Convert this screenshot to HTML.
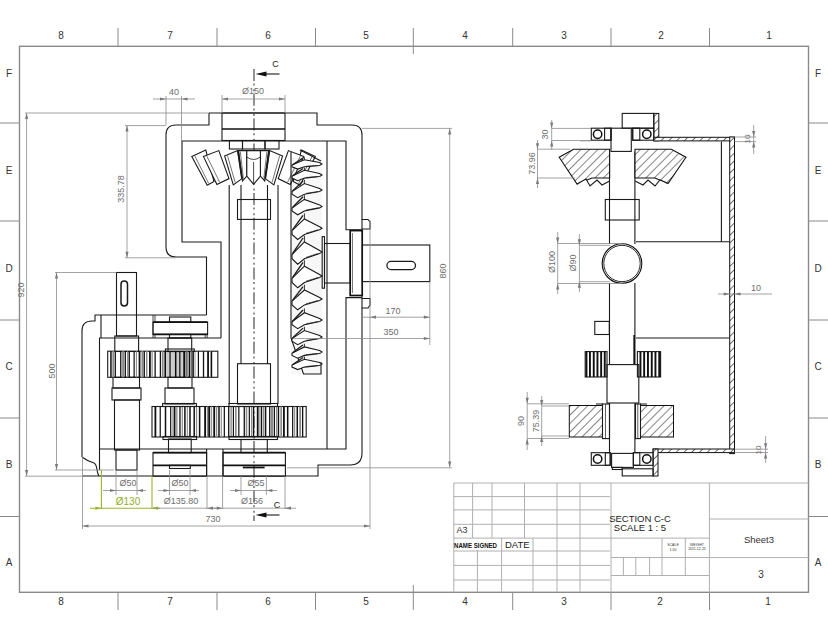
<!DOCTYPE html>
<html><head><meta charset="utf-8"><style>
html,body{margin:0;padding:0;background:#fff;width:828px;height:640px;overflow:hidden}
svg{display:block}
text{font-family:"Liberation Sans",sans-serif}
.fr{fill:none;stroke:#8a8a8a;stroke-width:1.4}
.zl{font-size:10px;fill:#333;text-anchor:middle}
.tb{fill:none;stroke:#b0b0b0;stroke-width:1}
.o{fill:none;stroke:#1a1a1a;stroke-width:1.1}
.ot{fill:none;stroke:#111;stroke-width:1.7}
.d{fill:none;stroke:#8c8c8c;stroke-width:0.8}
.cl{fill:none;stroke:#4a4a4a;stroke-width:1.2;stroke-dasharray:12 2.6 2 3.6 2 2.6}
.g{fill:none;stroke:#9bb52a;stroke-width:1.1}
</style></head><body>
<svg width="828" height="640" viewBox="0 0 828 640">

<rect class="fr" x="19.5" y="46.3" width="789" height="546"/>
<g class="fr" style="stroke-width:1">
<path d="M118 28V46M217 28V46M315.5 28V46M413.3 28V54M512.7 28V46M611 28V46M709.5 28V46"/>
<path d="M118 592V610M217 592V610M315.5 592V610M413.3 585V610M512.7 592V610M611 592V610M709.5 592V610"/>
<path d="M0 123H19.5M0 221H19.5M0 320H19.5M0 418H19.5M0 516.5H19.5"/>
<path d="M808.5 123H828M808.5 221H828M808.5 320H828M808.5 418H828M808.5 516.5H828"/>
</g>
<g class="zl">
<text x="61" y="39">8</text><text x="170" y="39">7</text><text x="268" y="39">6</text><text x="366" y="39">5</text><text x="465" y="39">4</text><text x="564" y="39">3</text><text x="661" y="39">2</text><text x="769" y="39">1</text>
<text x="61" y="605">8</text><text x="170" y="605">7</text><text x="268" y="605">6</text><text x="366" y="605">5</text><text x="465" y="605">4</text><text x="564" y="605">3</text><text x="660" y="605">2</text><text x="768" y="605">1</text>
<text x="9" y="77">F</text><text x="9" y="174">E</text><text x="9" y="272">D</text><text x="9" y="370">C</text><text x="9" y="468">B</text><text x="9" y="566">A</text>
<text x="818" y="77">F</text><text x="818" y="174">E</text><text x="818" y="272">D</text><text x="818" y="370">C</text><text x="818" y="468">B</text><text x="818" y="566">A</text>
</g>
<g class="tb">
<path d="M453.8 483H808.5M453.8 483V592.5M611 483V592.5M709.4 483V592.5"/>
<path d="M453.8 496.6H610M453.8 509.9H610M453.8 524.3H610M453.8 538.1H709.4"/>
<path d="M472.6 483V538M492 483V538M524.5 483V538M557 483V592M580 483V592"/>
<path d="M477.4 550V592M501.6 538V592M533 538V592"/>
<path d="M453.8 551H610M453.8 565.4H610M453.8 580H610"/>
<path d="M709.4 519H808.5M709.4 557.6H808.5"/>
<path d="M611 557.5H709.4M611 575.5H709.4M662 538V575.5M685.3 538V575.5M623.4 557.5V575.5M635.8 557.5V575.5M649.6 557.5V575.5"/>
</g>
<text x="456.5" y="533" style="font-size:9px;fill:#333">A3</text>
<text x="454" y="548" style="font-size:8px;fill:#111;font-weight:bold" textLength="43" lengthAdjust="spacingAndGlyphs">NAME SIGNED</text>
<text x="505" y="548" style="font-size:9.5px;fill:#222">DATE</text>
<text x="640" y="522" style="font-size:9.5px;fill:#222;text-anchor:middle">SECTION C-C</text>
<text x="640" y="531" style="font-size:9.5px;fill:#222;text-anchor:middle">SCALE 1 : 5</text>
<text x="673" y="546" style="font-size:3.5px;fill:#333;text-anchor:middle">SCALE</text>
<text x="673" y="551" style="font-size:3.5px;fill:#333;text-anchor:middle">1:50</text>
<text x="697" y="546" style="font-size:3.5px;fill:#333;text-anchor:middle">WEIGHT</text>
<text x="697" y="550" style="font-size:3.5px;fill:#333;text-anchor:middle">2011-12-25</text>
<text x="759" y="543" style="font-size:9.5px;fill:#333;text-anchor:middle">Sheet3</text>
<text x="761" y="578" style="font-size:10px;fill:#333;text-anchor:middle">3</text>

<path class="cl" d="M254 69V521" />
<text x="275.5" y="66.5" style="font-size:9px;fill:#222;text-anchor:middle">C</text>
<path class="o" d="M262 74H279.5" />
<polygon points="255.50,74.00 266.50,71.40 266.50,76.60" style="fill:#111"/>
<text x="277" y="508" style="font-size:9px;fill:#222;text-anchor:middle">C</text>
<path class="o" d="M262 515H279.5" />
<polygon points="255.50,515.00 266.50,512.40 266.50,517.60" style="fill:#111"/>
<path class="o" d="M209 113H317V125H352Q362 125 362 135V231.5M362 296V453Q362 465 350 465H318V476H82" />
<path class="o" d="M209 113V125H176Q166 125 166 135V247Q166 257 176 257H206.5V315" />
<path class="o" d="M221 338V242H182V141H346V229.8H361.6M361.6 297.6H346V449H99" />
<path class="o" d="M327 141V449" />
<path class="o" d="M206.5 315H95V321H92Q82 321 82 331V457" />
<path class="o" d="M82 457C86 460 90 462 94 463C98 465 96 472 99 476" />
<path class="o" d="M101 315V338M99.5 338V470" />
<path class="o" d="M99 338H221" />
<rect class="o" x="116.50" y="272.50" width="20.00" height="63.50" />
<rect class="o" x="121" y="281" width="6.5" height="25" rx="3.2" style="stroke-width:1.5"/>
<rect class="o" x="114.80" y="336.00" width="23.80" height="15.50" />
<rect class="o" x="113.00" y="377.30" width="26.50" height="10.70" />
<rect class="o" x="112.00" y="388.00" width="29.00" height="12.00" />
<rect class="o" x="114.50" y="400.00" width="25.00" height="50.00" />
<rect class="o" x="116.00" y="450.00" width="21.00" height="20.00" />
<rect class="o" x="169.50" y="317.00" width="21.30" height="5.20" />
<rect class="o" x="153.00" y="322.20" width="54.60" height="12.20" />
<path class="ot" d="M153 322.2H207.6M153 334.4H207.6" />
<path class="o" d="M153 315V338M155 315V322M155 334.4V338M205.2 334.4V338M207.2 334.4V338" style="stroke-width:0.8"/>
<rect class="o" x="165.40" y="349.00" width="28.90" height="2.50" />
<rect class="o" x="169.50" y="334.40" width="21.30" height="3.60" />
<rect class="o" x="168.00" y="338.00" width="23.70" height="13.50" />
<rect class="o" x="168.00" y="377.30" width="24.00" height="10.70" />
<rect class="o" x="165.00" y="388.00" width="29.00" height="16.00" />
<rect class="o" x="168.50" y="439.00" width="22.70" height="13.60" />
<rect class="o" x="153.00" y="452.60" width="53.60" height="23.60" />
<path class="ot" d="M153 452.6H206.6M153 465.3H206.6" />
<rect class="o" x="169.50" y="465.30" width="20.80" height="3.20" />
<path class="o" d="M206.6 449V476M223 449V476" />
<rect class="o" x="107.70" y="351.20" width="110.10" height="26.10" />
<rect x="112.38" y="351.2" width="1.92" height="26.100000000000023" style="fill:#8a8a8a"/><rect x="122.15" y="351.2" width="2.00" height="26.100000000000023" style="fill:#8a8a8a"/><rect x="127.07" y="351.2" width="1.23" height="26.100000000000023" style="fill:#8a8a8a"/><rect x="135.90" y="351.2" width="1.04" height="26.100000000000023" style="fill:#8a8a8a"/><rect x="141.47" y="351.2" width="1.88" height="26.100000000000023" style="fill:#8a8a8a"/><rect x="146.01" y="351.2" width="1.44" height="26.100000000000023" style="fill:#8a8a8a"/><rect x="151.52" y="351.2" width="1.22" height="26.100000000000023" style="fill:#8a8a8a"/><rect x="161.88" y="351.2" width="1.35" height="26.100000000000023" style="fill:#8a8a8a"/><rect x="185.73" y="351.2" width="1.85" height="26.100000000000023" style="fill:#8a8a8a"/><rect x="190.63" y="351.2" width="1.90" height="26.100000000000023" style="fill:#8a8a8a"/><rect x="210.16" y="351.2" width="1.31" height="26.100000000000023" style="fill:#8a8a8a"/><rect x="110.20" y="351.2" width="1.5" height="26.100000000000023" style="fill:#111"/><rect x="114.75" y="351.2" width="1.2" height="26.100000000000023" style="fill:#111"/><rect x="120.10" y="351.2" width="1.3" height="26.100000000000023" style="fill:#111"/><rect x="124.65" y="351.2" width="1.3" height="26.100000000000023" style="fill:#111"/><rect x="128.61" y="351.2" width="1.3" height="26.100000000000023" style="fill:#111"/><rect x="133.52" y="351.2" width="1.2" height="26.100000000000023" style="fill:#111"/><rect x="138.64" y="351.2" width="1.8" height="26.100000000000023" style="fill:#111"/><rect x="143.63" y="351.2" width="1.3" height="26.100000000000023" style="fill:#111"/><rect x="149.03" y="351.2" width="1.8" height="26.100000000000023" style="fill:#111"/><rect x="154.49" y="351.2" width="1.3" height="26.100000000000023" style="fill:#111"/><rect x="159.75" y="351.2" width="1.3" height="26.100000000000023" style="fill:#111"/><rect x="164.50" y="351.2" width="1.5" height="26.100000000000023" style="fill:#111"/><rect x="169.44" y="351.2" width="1.2" height="26.100000000000023" style="fill:#111"/><rect x="174.94" y="351.2" width="1.5" height="26.100000000000023" style="fill:#111"/><rect x="179.22" y="351.2" width="1.2" height="26.100000000000023" style="fill:#111"/><rect x="183.29" y="351.2" width="1.8" height="26.100000000000023" style="fill:#111"/><rect x="188.79" y="351.2" width="1.2" height="26.100000000000023" style="fill:#111"/><rect x="192.51" y="351.2" width="1.3" height="26.100000000000023" style="fill:#111"/><rect x="197.79" y="351.2" width="1.2" height="26.100000000000023" style="fill:#111"/><rect x="202.87" y="351.2" width="1.3" height="26.100000000000023" style="fill:#111"/><rect x="207.16" y="351.2" width="1.8" height="26.100000000000023" style="fill:#111"/><rect x="210.99" y="351.2" width="1.2" height="26.100000000000023" style="fill:#111"/>
<rect x="163" y="351.2" width="33" height="26.100000000000023" style="fill:#000;opacity:0.2"/>
<rect class="o" x="152.00" y="406.50" width="154.20" height="30.50" />
<rect x="172.41" y="406.5" width="1.38" height="30.5" style="fill:#8a8a8a"/><rect x="176.19" y="406.5" width="1.28" height="30.5" style="fill:#8a8a8a"/><rect x="181.70" y="406.5" width="1.14" height="30.5" style="fill:#8a8a8a"/><rect x="186.82" y="406.5" width="1.01" height="30.5" style="fill:#8a8a8a"/><rect x="195.96" y="406.5" width="1.20" height="30.5" style="fill:#8a8a8a"/><rect x="206.84" y="406.5" width="1.94" height="30.5" style="fill:#8a8a8a"/><rect x="211.12" y="406.5" width="1.00" height="30.5" style="fill:#8a8a8a"/><rect x="215.90" y="406.5" width="1.31" height="30.5" style="fill:#8a8a8a"/><rect x="220.77" y="406.5" width="1.06" height="30.5" style="fill:#8a8a8a"/><rect x="230.43" y="406.5" width="1.37" height="30.5" style="fill:#8a8a8a"/><rect x="235.03" y="406.5" width="1.62" height="30.5" style="fill:#8a8a8a"/><rect x="245.74" y="406.5" width="1.52" height="30.5" style="fill:#8a8a8a"/><rect x="251.00" y="406.5" width="1.37" height="30.5" style="fill:#8a8a8a"/><rect x="259.42" y="406.5" width="1.15" height="30.5" style="fill:#8a8a8a"/><rect x="262.98" y="406.5" width="1.18" height="30.5" style="fill:#8a8a8a"/><rect x="271.00" y="406.5" width="1.99" height="30.5" style="fill:#8a8a8a"/><rect x="276.07" y="406.5" width="1.34" height="30.5" style="fill:#8a8a8a"/><rect x="280.36" y="406.5" width="1.64" height="30.5" style="fill:#8a8a8a"/><rect x="294.10" y="406.5" width="1.06" height="30.5" style="fill:#8a8a8a"/><rect x="299.23" y="406.5" width="1.85" height="30.5" style="fill:#8a8a8a"/><rect x="154.50" y="406.5" width="1.8" height="30.5" style="fill:#111"/><rect x="159.64" y="406.5" width="1.2" height="30.5" style="fill:#111"/><rect x="164.75" y="406.5" width="1.5" height="30.5" style="fill:#111"/><rect x="170.09" y="406.5" width="1.2" height="30.5" style="fill:#111"/><rect x="173.96" y="406.5" width="1.5" height="30.5" style="fill:#111"/><rect x="179.32" y="406.5" width="1.3" height="30.5" style="fill:#111"/><rect x="184.14" y="406.5" width="1.5" height="30.5" style="fill:#111"/><rect x="189.24" y="406.5" width="1.5" height="30.5" style="fill:#111"/><rect x="193.45" y="406.5" width="1.5" height="30.5" style="fill:#111"/><rect x="198.87" y="406.5" width="1.5" height="30.5" style="fill:#111"/><rect x="204.19" y="406.5" width="1.8" height="30.5" style="fill:#111"/><rect x="208.36" y="406.5" width="1.8" height="30.5" style="fill:#111"/><rect x="213.28" y="406.5" width="1.8" height="30.5" style="fill:#111"/><rect x="218.24" y="406.5" width="1.5" height="30.5" style="fill:#111"/><rect x="223.72" y="406.5" width="1.2" height="30.5" style="fill:#111"/><rect x="228.06" y="406.5" width="1.3" height="30.5" style="fill:#111"/><rect x="232.80" y="406.5" width="1.2" height="30.5" style="fill:#111"/><rect x="238.24" y="406.5" width="1.2" height="30.5" style="fill:#111"/><rect x="243.63" y="406.5" width="1.3" height="30.5" style="fill:#111"/><rect x="248.73" y="406.5" width="1.2" height="30.5" style="fill:#111"/><rect x="252.96" y="406.5" width="1.3" height="30.5" style="fill:#111"/><rect x="256.81" y="406.5" width="1.8" height="30.5" style="fill:#111"/><rect x="260.99" y="406.5" width="1.2" height="30.5" style="fill:#111"/><rect x="264.82" y="406.5" width="1.5" height="30.5" style="fill:#111"/><rect x="269.07" y="406.5" width="1.3" height="30.5" style="fill:#111"/><rect x="273.73" y="406.5" width="1.3" height="30.5" style="fill:#111"/><rect x="277.87" y="406.5" width="1.3" height="30.5" style="fill:#111"/><rect x="283.02" y="406.5" width="1.8" height="30.5" style="fill:#111"/><rect x="286.94" y="406.5" width="1.5" height="30.5" style="fill:#111"/><rect x="292.07" y="406.5" width="1.2" height="30.5" style="fill:#111"/><rect x="296.53" y="406.5" width="1.5" height="30.5" style="fill:#111"/><rect x="302.00" y="406.5" width="1.3" height="30.5" style="fill:#111"/>
<rect class="o" x="229.00" y="403.50" width="48.50" height="3.00" />
<rect class="o" x="229.00" y="436.50" width="48.50" height="3.00" />
<rect class="o" x="162.60" y="403.50" width="33.80" height="3.00" />
<rect class="o" x="163.00" y="436.50" width="33.60" height="3.00" />
<rect class="o" x="241.00" y="439.50" width="26.30" height="13.10" />
<rect class="o" x="223.00" y="452.60" width="62.40" height="23.60" />
<path class="ot" d="M223 452.6H285.4M223 465.3H285.4" />
<path class="ot" d="M242.8 467.5H264.6" />
<rect class="o" x="222.00" y="113.00" width="63.00" height="27.50" />
<path class="ot" d="M222 129H285" />
<rect class="o" x="229.40" y="140.50" width="13.10" height="8.50" />
<rect class="o" x="242.50" y="140.50" width="22.50" height="8.50" />
<rect class="o" x="265.00" y="140.50" width="14.00" height="8.50" />
<path class="o" d="M229.2 185V404M278 185V404M241 185V364M267.5 185V364" />
<rect class="o" x="237.50" y="199.50" width="33.00" height="19.90" />
<rect class="o" x="237.50" y="363.70" width="33.00" height="40.30" />
<polygon class="o" points="191.8,156.4 205.8,150.0 214.0,181.5 207.2,185.3" style="fill:#fff;stroke-width:1.1"/>
<path class="o" d="M194.9 156.0L208.7 183.5" style="stroke-width:0.6"/>
<polygon class="o" points="315.4,156.4 301.4,150.0 293.2,181.5 300.0,185.3" style="fill:#fff;stroke-width:1.1"/>
<path class="o" d="M312.3 156.0L298.5 183.5" style="stroke-width:0.6"/>
<polygon class="o" points="203.4,156.4 218.8,150.6 229.0,178.6 216.9,184.4" style="fill:#fff;stroke-width:1.1"/>
<path class="o" d="M206.8 156.1L219.6 182.1" style="stroke-width:0.6"/>
<polygon class="o" points="303.8,156.4 288.4,150.6 278.2,178.6 290.3,184.4" style="fill:#fff;stroke-width:1.1"/>
<path class="o" d="M300.4 156.1L287.6 182.1" style="stroke-width:0.6"/>
<polygon class="o" points="224.6,155.9 237.7,150.6 242.0,178.6 233.3,184.9" style="fill:#fff;stroke-width:1.1"/>
<path class="o" d="M227.5 155.7L235.2 182.5" style="stroke-width:0.6"/>
<polygon class="o" points="282.6,155.9 269.5,150.6 265.2,178.6 273.9,184.9" style="fill:#fff;stroke-width:1.1"/>
<path class="o" d="M279.7 155.7L272.0 182.5" style="stroke-width:0.6"/>
<polygon class="o" points="238.5,150.6 246.8,150.6 246.8,176.0 242.5,181.0" style="fill:#fff;stroke-width:1.1"/>
<path class="o" d="M240.3 151.6L243.4 178.9" style="stroke-width:0.6"/>
<polygon class="o" points="268.7,150.6 260.4,150.6 260.4,176.0 264.7,181.0" style="fill:#fff;stroke-width:1.1"/>
<path class="o" d="M266.9 151.6L263.8 178.9" style="stroke-width:0.6"/>
<polygon class="o" points="246.8,150.6 260.4,150.6 260.4,176 253.6,184.4 246.8,176" style="fill:#fff"/>
<path class="o" d="M246.8 157Q253.6 162 260.4 157M253.6 162V184" style="stroke-width:0.8"/>
<path class="o" d="M238 151L242 178.6M269.2 151L265.2 178.6" style="stroke-width:1.8"/>
<rect x="291" y="158" width="31" height="216" style="fill:#000;opacity:0.03"/>
<path class="o" d="M291 152V338L303.5 374H321V362M300 150L321 161" />
<polygon class="o" points="292.0,165.0 304.4,159.7 319.6,162.5 322.0,164.0 319.6,165.5 304.4,166.8 297.7,169.1 292.0,166.8" style="fill:#fff;stroke-width:1.1"/>
<path class="o" d="M304.4 157.2V159.7" style="stroke-width:0.9"/>
<path class="o" d="M303 158.1L292.5 164.7" style="stroke-width:1.3"/>
<path class="o" d="M306 166.3L318 165.5" style="stroke-width:0.7"/>
<polygon class="o" points="292.0,176.2 304.4,170.3 319.6,173.5 322.0,175.0 319.6,176.5 304.4,178.1 297.7,180.7 292.0,178.1" style="fill:#fff;stroke-width:1.1"/>
<path class="o" d="M304.4 167.5V170.3" style="stroke-width:0.9"/>
<path class="o" d="M303 168.5L292.5 175.8" style="stroke-width:1.3"/>
<path class="o" d="M306 177.5L318 176.5" style="stroke-width:0.7"/>
<polygon class="o" points="292.0,191.6 304.4,183.6 319.6,188.5 322.0,190.0 319.6,191.5 304.4,194.2 297.7,197.7 292.0,194.2" style="fill:#fff;stroke-width:1.1"/>
<path class="o" d="M304.4 179.8V183.6" style="stroke-width:0.9"/>
<path class="o" d="M303 181.1L292.5 191.0" style="stroke-width:1.3"/>
<path class="o" d="M306 193.4L318 191.5" style="stroke-width:0.7"/>
<polygon class="o" points="292.0,208.1 304.4,199.4 319.6,204.9 322.0,206.4 319.6,207.9 304.4,211.0 297.7,214.8 292.0,211.0" style="fill:#fff;stroke-width:1.1"/>
<path class="o" d="M304.4 195.2V199.4" style="stroke-width:0.9"/>
<path class="o" d="M303 196.7L292.5 207.5" style="stroke-width:1.3"/>
<path class="o" d="M306 210.1L318 207.9" style="stroke-width:0.7"/>
<polygon class="o" points="292.0,230.6 304.4,218.9 319.6,226.8 322.0,228.3 319.6,229.8 304.4,234.5 297.7,239.5 292.0,234.5" style="fill:#fff;stroke-width:1.1"/>
<path class="o" d="M304.4 213.4V218.9" style="stroke-width:0.9"/>
<path class="o" d="M303 215.4L292.5 229.8" style="stroke-width:1.3"/>
<path class="o" d="M306 233.3L318 229.8" style="stroke-width:0.7"/>
<polygon class="o" points="292.0,254.5 304.4,241.9 319.6,250.5 322.0,252.0 319.6,253.5 304.4,258.7 297.7,264.2 292.0,258.7" style="fill:#fff;stroke-width:1.1"/>
<path class="o" d="M304.4 235.8V241.9" style="stroke-width:0.9"/>
<path class="o" d="M303 238.0L292.5 253.6" style="stroke-width:1.3"/>
<path class="o" d="M306 257.4L318 253.5" style="stroke-width:0.7"/>
<polygon class="o" points="292.0,278.4 304.4,266.2 319.6,274.5 322.0,276.0 319.6,277.5 304.4,282.5 297.7,287.8 292.0,282.5" style="fill:#fff;stroke-width:1.1"/>
<path class="o" d="M304.4 260.3V266.2" style="stroke-width:0.9"/>
<path class="o" d="M303 262.4L292.5 277.6" style="stroke-width:1.3"/>
<path class="o" d="M306 281.2L318 277.5" style="stroke-width:0.7"/>
<polygon class="o" points="292.0,301.2 304.4,290.0 319.6,297.5 322.0,299.0 319.6,300.5 304.4,304.9 297.7,309.8 292.0,304.9" style="fill:#fff;stroke-width:1.1"/>
<path class="o" d="M304.4 284.7V290.0" style="stroke-width:0.9"/>
<path class="o" d="M303 286.6L292.5 300.4" style="stroke-width:1.3"/>
<path class="o" d="M306 303.8L318 300.5" style="stroke-width:0.7"/>
<polygon class="o" points="292.0,321.8 304.4,312.7 319.6,318.5 322.0,320.0 319.6,321.5 304.4,324.8 297.7,328.7 292.0,324.8" style="fill:#fff;stroke-width:1.1"/>
<path class="o" d="M304.4 308.4V312.7" style="stroke-width:0.9"/>
<path class="o" d="M303 310.0L292.5 321.2" style="stroke-width:1.3"/>
<path class="o" d="M306 323.9L318 321.5" style="stroke-width:0.7"/>
<polygon class="o" points="292.0,338.6 304.4,330.6 319.6,335.5 322.0,337.0 319.6,338.5 304.4,341.2 297.7,344.7 292.0,341.2" style="fill:#fff;stroke-width:1.1"/>
<path class="o" d="M304.4 326.8V330.6" style="stroke-width:0.9"/>
<path class="o" d="M303 328.1L292.5 338.0" style="stroke-width:1.3"/>
<path class="o" d="M306 340.4L318 338.5" style="stroke-width:0.7"/>
<polygon class="o" points="292.0,353.3 304.4,346.9 319.6,350.5 322.0,352.0 319.6,353.5 304.4,355.4 297.7,358.2 292.0,355.4" style="fill:#fff;stroke-width:1.1"/>
<path class="o" d="M304.4 343.8V346.9" style="stroke-width:0.9"/>
<path class="o" d="M303 344.9L292.5 352.8" style="stroke-width:1.3"/>
<path class="o" d="M306 354.7L318 353.5" style="stroke-width:0.7"/>
<polygon class="o" points="292.0,365.1 304.4,359.3 319.6,362.5 322.0,364.0 319.6,365.5 304.4,367.1 297.7,369.6 292.0,367.1" style="fill:#fff;stroke-width:1.1"/>
<path class="o" d="M304.4 356.5V359.3" style="stroke-width:0.9"/>
<path class="o" d="M303 357.5L292.5 364.8" style="stroke-width:1.3"/>
<path class="o" d="M306 366.5L318 365.5" style="stroke-width:0.7"/>
<rect class="o" x="322.20" y="236.60" width="2.30" height="51.60" />
<rect class="o" x="324.50" y="243.50" width="25.70" height="39.50" />
<rect class="ot" x="350.20" y="230.60" width="12.00" height="64.90" />
<path class="o" d="M352.5 233V293" style="stroke-width:0.6"/>
<path class="o" d="M361.6 219.5H368L370 222V229H361.6" />
<path class="o" d="M361.6 298.5H370V305L368 308H361.6" />
<rect class="o" x="362.30" y="245.00" width="67.50" height="36.60" />
<rect class="o" x="386.9" y="261.4" width="28.6" height="8.2" rx="4.1" style="stroke-width:1.3"/>
<path class="d" d="M166 96V125M181.5 96V141M153 99H195" />
<polygon points="166.00,99.00 160.00,100.60 160.00,97.40" style="fill:#7a7a7a"/>
<polygon points="181.50,99.00 187.50,97.40 187.50,100.60" style="fill:#7a7a7a"/>
<text x="174" y="95" style="font-size:9px;fill:#6e6e6e;text-anchor:middle">40</text>
<path class="d" d="M222 95V113M285 95V113M222 99H285" />
<polygon points="222.00,99.00 228.00,97.40 228.00,100.60" style="fill:#7a7a7a"/>
<polygon points="285.00,99.00 279.00,100.60 279.00,97.40" style="fill:#7a7a7a"/>
<text x="253" y="94" style="font-size:9px;fill:#6e6e6e;text-anchor:middle">Ø150</text>
<path class="d" d="M25 113H209M25 476.2H82M26.6 113V476" />
<polygon points="26.60,113.00 28.20,119.00 25.00,119.00" style="fill:#7a7a7a"/>
<polygon points="26.60,476.00 25.00,470.00 28.20,470.00" style="fill:#7a7a7a"/>
<text x="24" y="290" style="font-size:9px;fill:#6e6e6e;text-anchor:middle" transform="rotate(-90 24 290)">920</text>
<path class="d" d="M125 125.6H166M125 257.8H176M127 125.6V257.8" />
<polygon points="127.00,125.60 128.60,131.60 125.40,131.60" style="fill:#7a7a7a"/>
<polygon points="127.00,257.80 125.40,251.80 128.60,251.80" style="fill:#7a7a7a"/>
<text x="124" y="189" style="font-size:9px;fill:#6e6e6e;text-anchor:middle" transform="rotate(-90 124 189)">335.78</text>
<path class="d" d="M55 272.5H116.5M55 470H114M56.5 272.5V470" />
<polygon points="56.50,272.50 58.10,278.50 54.90,278.50" style="fill:#7a7a7a"/>
<polygon points="56.50,470.00 54.90,464.00 58.10,464.00" style="fill:#7a7a7a"/>
<text x="55" y="371" style="font-size:9px;fill:#6e6e6e;text-anchor:middle" transform="rotate(-90 55 371)">500</text>
<path class="d" d="M362 128.4H452M287 467.8H452M449.7 128.4V467.4" />
<polygon points="449.70,128.40 451.30,134.40 448.10,134.40" style="fill:#7a7a7a"/>
<polygon points="449.70,467.40 448.10,461.40 451.30,461.40" style="fill:#7a7a7a"/>
<text x="446" y="271" style="font-size:9px;fill:#6e6e6e;text-anchor:middle" transform="rotate(-90 446 271)">860</text>
<path class="d" d="M370 220V345M429.8 281.6V345M362.3 317.2H429.8M293 338.5H429.8" />
<polygon points="370.00,317.20 376.00,315.60 376.00,318.80" style="fill:#7a7a7a"/>
<polygon points="429.80,317.20 423.80,318.80 423.80,315.60" style="fill:#7a7a7a"/>
<polygon points="429.80,338.50 423.80,340.10 423.80,336.90" style="fill:#7a7a7a"/>
<text x="393" y="314" style="font-size:9px;fill:#6e6e6e;text-anchor:middle">170</text>
<text x="391" y="335" style="font-size:9px;fill:#6e6e6e;text-anchor:middle">350</text>
<path class="d" d="M82.5 456V529M370 345V529M82.5 526H370" />
<polygon points="82.50,526.00 88.50,524.40 88.50,527.60" style="fill:#7a7a7a"/>
<polygon points="370.00,526.00 364.00,527.60 364.00,524.40" style="fill:#7a7a7a"/>
<text x="213" y="522" style="font-size:9px;fill:#6e6e6e;text-anchor:middle">730</text>
<path class="d" d="M116 470V495M137 470V495M103 490.5H146" />
<polygon points="116.00,490.50 110.00,492.10 110.00,488.90" style="fill:#7a7a7a"/>
<polygon points="137.00,490.50 143.00,488.90 143.00,492.10" style="fill:#7a7a7a"/>
<text x="128" y="486" style="font-size:9px;fill:#6e6e6e;text-anchor:middle">Ø50</text>
<path class="d" d="M169.5 470V495M190 470V495M158 490.5H199" />
<polygon points="169.50,490.50 163.50,492.10 163.50,488.90" style="fill:#7a7a7a"/>
<polygon points="190.00,490.50 196.00,488.90 196.00,492.10" style="fill:#7a7a7a"/>
<text x="180" y="486" style="font-size:9px;fill:#6e6e6e;text-anchor:middle">Ø50</text>
<path class="d" d="M241 476V495M266.4 476V495M230 490.5H277" />
<polygon points="241.00,490.50 235.00,492.10 235.00,488.90" style="fill:#7a7a7a"/>
<polygon points="266.40,490.50 272.40,488.90 272.40,492.10" style="fill:#7a7a7a"/>
<text x="256" y="486" style="font-size:9px;fill:#6e6e6e;text-anchor:middle">Ø55</text>
<path class="g" d="M101.4 470V509M152 476V509M90 508.2H160" />
<polygon points="101.40,508.20 95.40,509.80 95.40,506.60" style="fill:#9ab526"/>
<polygon points="152.00,508.20 158.00,506.60 158.00,509.80" style="fill:#9ab526"/>
<text x="128" y="505" style="font-size:10px;fill:#93ad2a;text-anchor:middle">Ø130</text>
<path class="d" d="M207 476V509M153 508.2H216" />
<polygon points="207.00,508.20 213.00,506.60 213.00,509.80" style="fill:#7a7a7a"/>
<text x="181" y="504" style="font-size:9px;fill:#6e6e6e;text-anchor:middle">Ø135.80</text>
<path class="d" d="M222.6 476V509M285 476V509M212 508.2H296" />
<polygon points="222.60,508.20 216.60,509.80 216.60,506.60" style="fill:#7a7a7a"/>
<polygon points="285.00,508.20 291.00,506.60 291.00,509.80" style="fill:#7a7a7a"/>
<text x="252" y="504" style="font-size:9px;fill:#6e6e6e;text-anchor:middle">Ø156</text>
<defs><pattern id="h" patternUnits="userSpaceOnUse" width="6" height="6" patternTransform="rotate(45)">
<rect width="6" height="6" fill="#fff"/><line x1="0" y1="0" x2="0" y2="6" style="stroke:#222;stroke-width:1.1"/></pattern>
<pattern id="h2" patternUnits="userSpaceOnUse" width="5.5" height="5.5" patternTransform="rotate(45)">
<rect width="5.5" height="5.5" fill="#fff"/><line x1="0" y1="0" x2="0" y2="5.5" style="stroke:#222;stroke-width:1.3"/></pattern></defs>
<rect x="653.8" y="113.4" width="5.0" height="27.5" style="fill:url(#h2);stroke:#111;stroke-width:1"/>
<rect x="653.8" y="137.3" width="80.70000000000005" height="3.5999999999999943" style="fill:url(#h2);stroke:#111;stroke-width:1"/>
<rect x="729.7" y="137" width="4.7999999999999545" height="316.6" style="fill:url(#h2);stroke:#111;stroke-width:1"/>
<rect x="653.1" y="449" width="81.39999999999998" height="3.6000000000000227" style="fill:url(#h2);stroke:#111;stroke-width:1"/>
<rect x="653.1" y="449" width="4.899999999999977" height="27" style="fill:url(#h2);stroke:#111;stroke-width:1"/>
<path class="o" d="M721.4 141.6V241.7M636 241.7H729.7M636 338H729.7" />
<rect class="o" x="591.30" y="128.20" width="19.70" height="12.00" />
<circle cx="597.6" cy="134.20" r="4.2" style="fill:none;stroke:#111;stroke-width:1.5"/>
<rect class="o" x="604.60" y="128.20" width="6.40" height="12.00" />
<rect class="o" x="632.70" y="128.20" width="21.10" height="12.00" />
<circle cx="646.8" cy="134.20" r="4.2" style="fill:none;stroke:#111;stroke-width:1.5"/>
<rect class="o" x="632.70" y="128.20" width="7.10" height="12.00" />
<rect class="o" x="591.30" y="452.70" width="18.90" height="12.60" />
<circle cx="597.6" cy="459.00" r="4.2" style="fill:none;stroke:#111;stroke-width:1.5"/>
<rect class="o" x="605.30" y="452.70" width="4.90" height="12.60" />
<rect class="o" x="633.40" y="452.70" width="19.70" height="12.60" />
<circle cx="646.8" cy="459.00" r="4.2" style="fill:none;stroke:#111;stroke-width:1.5"/>
<rect class="o" x="633.40" y="452.70" width="6.40" height="12.60" />
<rect class="o" x="622.20" y="113.40" width="31.60" height="14.80" />
<rect class="o" x="611.00" y="128.20" width="20.30" height="23.20" />
<path class="d" d="M580 140.9H591.3M653.8 140.9H660" />
<path class="o" d="M609.5 151.4V244M634.9 151.4V244M609.5 283V364.6M634.9 283V364.6M609.5 403V452.7M634.9 403V452.7" />
<polygon points="573.5,149.2 609.6,149.2 609.6,178 592,178 577,184 559.2,157.2" style="fill:url(#h);stroke:#111;stroke-width:1.1"/>
<polygon points="635,149.2 671.4,149.2 686,157.2 668,183.5 655,178 635,178" style="fill:url(#h);stroke:#111;stroke-width:1.1"/>
<polyline class="o" points="577,184 586,179 590,186 597,180 602,185 609.6,181" style="fill:#fff"/>
<polyline class="o" points="635,181 643,185 648,180 655,186 660,180 668,183.5" style="fill:#fff"/>
<rect class="o" x="605.30" y="199.50" width="33.90" height="20.50" />
<circle cx="622" cy="263.5" r="19.8" style="fill:#fff;stroke:#111;stroke-width:1.1"/>
<circle cx="622" cy="263.5" r="18.2" style="fill:none;stroke:#111;stroke-width:0.9"/>
<rect class="o" x="594.80" y="321.40" width="14.50" height="13.10" />
<rect class="o" x="585.20" y="351.60" width="21.80" height="25.40" />
<rect x="585.50" y="351.6" width="1.9" height="25.399999999999977" style="fill:#111"/><rect x="589.00" y="351.6" width="1.9" height="25.399999999999977" style="fill:#111"/><rect x="592.80" y="351.6" width="1.9" height="25.399999999999977" style="fill:#111"/><rect x="596.50" y="351.6" width="1.9" height="25.399999999999977" style="fill:#111"/><rect x="600.20" y="351.6" width="1.9" height="25.399999999999977" style="fill:#111"/><rect x="603.80" y="351.6" width="1.9" height="25.399999999999977" style="fill:#111"/>
<rect class="o" x="637.40" y="351.60" width="23.20" height="25.40" />
<rect x="639.50" y="351.6" width="1.9" height="25.399999999999977" style="fill:#111"/><rect x="643.20" y="351.6" width="1.9" height="25.399999999999977" style="fill:#111"/><rect x="647.00" y="351.6" width="1.9" height="25.399999999999977" style="fill:#111"/><rect x="650.80" y="351.6" width="1.9" height="25.399999999999977" style="fill:#111"/><rect x="654.50" y="351.6" width="1.9" height="25.399999999999977" style="fill:#111"/><rect x="658.30" y="351.6" width="1.9" height="25.399999999999977" style="fill:#111"/>
<path class="ot" d="M634.2 335V364" />
<rect class="o" x="607.00" y="364.60" width="31.80" height="38.40" />
<rect x="569.3" y="405.5" width="33.200000000000045" height="31.5" style="fill:url(#h);stroke:#111;stroke-width:1"/>
<rect x="640.5" y="405.5" width="33.0" height="31.5" style="fill:url(#h);stroke:#111;stroke-width:1"/>
<rect class="o" x="602.50" y="404.00" width="7.00" height="34.60" />
<rect class="o" x="635.50" y="404.00" width="5.00" height="34.60" />
<path class="o" d="M596 404H602.5V405.5M640.5 405.5V404H647" />
<path class="o" d="M605.5 404V438.6M637.8 404V438.6" style="stroke-width:0.7"/>
<rect class="o" x="611.60" y="453.40" width="21.80" height="14.00" />
<rect class="o" x="612.30" y="467.40" width="9.90" height="2.10" />
<rect class="o" x="622.20" y="468.80" width="30.90" height="7.10" />
<path class="d" d="M551.7 128.4H591M551.7 140.5H591M551.7 120V150" />
<polygon points="551.70,128.40 550.10,122.40 553.30,122.40" style="fill:#7a7a7a"/>
<polygon points="551.70,140.50 553.30,146.50 550.10,146.50" style="fill:#7a7a7a"/>
<text x="548" y="134.5" style="font-size:9px;fill:#6e6e6e;text-anchor:middle" transform="rotate(-90 548 134.5)">30</text>
<path class="d" d="M537.5 149.2H570M537.5 178H575M537.5 140V188" />
<polygon points="537.50,149.20 535.90,143.20 539.10,143.20" style="fill:#7a7a7a"/>
<polygon points="537.50,178.00 539.10,184.00 535.90,184.00" style="fill:#7a7a7a"/>
<text x="535" y="163.5" style="font-size:9px;fill:#6e6e6e;text-anchor:middle" transform="rotate(-90 535 163.5)">73.96</text>
<path class="d" d="M557.7 243.5H622M557.7 283.5H622M557.7 232V294" />
<polygon points="557.70,243.50 556.10,237.50 559.30,237.50" style="fill:#7a7a7a"/>
<polygon points="557.70,283.50 559.30,289.50 556.10,289.50" style="fill:#7a7a7a"/>
<text x="555" y="262" style="font-size:9px;fill:#6e6e6e;text-anchor:middle" transform="rotate(-90 555 262)">Ø100</text>
<path class="d" d="M579.4 245.3H610M579.4 281.7H610M579.4 234V292" />
<polygon points="579.40,245.30 577.80,239.30 581.00,239.30" style="fill:#7a7a7a"/>
<polygon points="579.40,281.70 581.00,287.70 577.80,287.70" style="fill:#7a7a7a"/>
<text x="576" y="263" style="font-size:9px;fill:#6e6e6e;text-anchor:middle" transform="rotate(-90 576 263)">Ø90</text>
<path class="d" d="M734.5 137H756M734.5 141.6H756M753.7 125V154" />
<polygon points="753.70,137.00 752.10,131.00 755.30,131.00" style="fill:#7a7a7a"/>
<polygon points="753.70,141.60 755.30,147.60 752.10,147.60" style="fill:#7a7a7a"/>
<text x="750" y="139" style="font-size:8px;fill:#6e6e6e;text-anchor:middle" transform="rotate(-90 750 139)">10</text>
<path class="d" d="M718 294H772" />
<polygon points="729.70,294.00 723.70,295.60 723.70,292.40" style="fill:#7a7a7a"/>
<polygon points="734.50,294.00 740.50,292.40 740.50,295.60" style="fill:#7a7a7a"/>
<text x="756" y="291" style="font-size:9px;fill:#6e6e6e;text-anchor:middle">10</text>
<path class="d" d="M734.5 449.2H768M734.5 452.5H768M765.6 436V463" />
<polygon points="765.60,449.20 764.00,443.20 767.20,443.20" style="fill:#7a7a7a"/>
<polygon points="765.60,452.50 767.20,458.50 764.00,458.50" style="fill:#7a7a7a"/>
<text x="761" y="450" style="font-size:8px;fill:#6e6e6e;text-anchor:middle" transform="rotate(-90 761 450)">10</text>
<path class="d" d="M527.2 403.8H569M527.2 438.5H569M527.2 392V450" />
<polygon points="527.20,403.80 525.60,397.80 528.80,397.80" style="fill:#7a7a7a"/>
<polygon points="527.20,438.50 528.80,444.50 525.60,444.50" style="fill:#7a7a7a"/>
<text x="524" y="421" style="font-size:9px;fill:#6e6e6e;text-anchor:middle" transform="rotate(-90 524 421)">90</text>
<path class="d" d="M541.7 406H569M541.7 436H569" />
<path class="d" d="M541.7 396V446" />
<polygon points="541.70,406.00 540.10,400.00 543.30,400.00" style="fill:#7a7a7a"/>
<polygon points="541.70,436.00 543.30,442.00 540.10,442.00" style="fill:#7a7a7a"/>
<text x="539" y="421" style="font-size:9px;fill:#6e6e6e;text-anchor:middle" transform="rotate(-90 539 421)">75.39</text>
</svg></body></html>
